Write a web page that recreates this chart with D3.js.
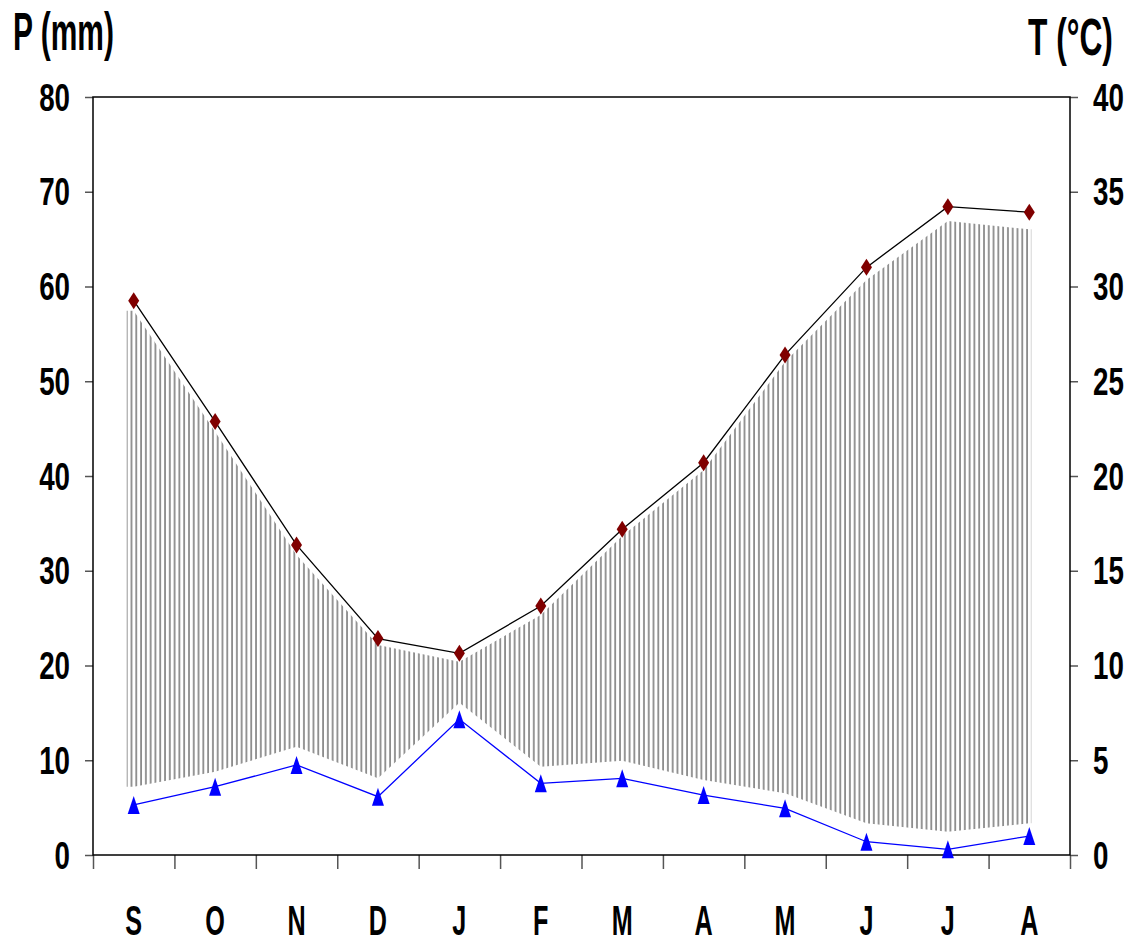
<!DOCTYPE html>
<html>
<head>
<meta charset="utf-8">
<script src="https://cdn.jsdelivr.net/npm/d3@7"></script>
<style>
  html, body { margin: 0; padding: 0; background: #fff; }
  svg { display: block; }
  text { font-family: "Liberation Sans", Arial, sans-serif; font-weight: bold; fill: #000; }
</style>
</head>
<body>
<svg id="chart" width="1136" height="942"></svg>
<script>
// ---- data ----
const months = ["S", "O", "N", "D", "J", "F", "M", "A", "M", "J", "J", "A"];
const temperature = [29.25, 22.87, 16.36, 11.42, 10.64, 13.14, 17.19, 20.70, 26.39, 31.01, 34.21, 33.92]; // °C (right axis)
const precipitation = [5.28, 7.21, 9.50, 6.15, 14.32, 7.57, 8.09, 6.33, 4.93, 1.40, 0.60, 2.00];      // mm (left axis)
const hatchTop = [57.45, 44.67, 31.66, 22.16, 20.40, 25.33, 33.67, 40.63, 52.06, 60.69, 66.91, 66.04];  // mm
const hatchBottom = [7.21, 8.79, 11.43, 8.09, 16.07, 9.32, 9.95, 7.92, 6.51, 3.35, 2.46, 3.35];         // mm
const pTicks = [0, 10, 20, 30, 40, 50, 60, 70, 80];
const tTicks = [0, 5, 10, 15, 20, 25, 30, 35, 40];

// ---- layout ----
const L = 93, R = 1070, T = 97, B = 855;
const svg = d3.select("#chart");

const x = d3.scaleBand().domain(d3.range(months.length)).range([L, R]);
const xc = i => x(i) + x.bandwidth() / 2;
const xb = d3.scaleLinear().domain([0, months.length]).range([L, R]);
const yP = d3.scaleLinear().domain([0, 80]).range([B, T]);
const yT = d3.scaleLinear().domain([0, 40]).range([B, T]);

// ---- hatch pattern ----
const defs = svg.append("defs");
const step = x.bandwidth() / 17;
const hx0 = xc(0) - 7, hx1 = xc(months.length - 1) + 2;
const pat = defs.append("pattern")
  .attr("id", "hatch")
  .attr("patternUnits", "userSpaceOnUse")
  .attr("x", hx0 - 1)
  .attr("y", 0)
  .attr("width", step)
  .attr("height", 20);
pat.append("line")
  .attr("x1", 1).attr("x2", 1).attr("y1", 0).attr("y2", 20)
  .attr("stroke", "#5e5e5e").attr("stroke-width", 1.3);

const hatchPts = months.map((m, i) => ({ x: xc(i), top: hatchTop[i], bot: hatchBottom[i] }));
hatchPts.unshift({ x: hx0, top: hatchTop[0], bot: hatchBottom[0] });
hatchPts.push({ x: hx1, top: hatchTop[months.length - 1], bot: hatchBottom[months.length - 1] });

svg.append("path")
  .datum(hatchPts)
  .attr("fill", "url(#hatch)")
  .attr("d", d3.area().x(d => d.x).y0(d => yP(d.bot)).y1(d => yP(d.top)));

// ---- axes ----
// left axis
const gl = svg.append("g").attr("transform", `translate(${L},0)`)
  .call(d3.axisLeft(yP).tickValues(pTicks).tickSize(8).tickFormat(""));
gl.select(".domain").remove();
gl.selectAll(".tick line").attr("stroke", "#555").attr("stroke-width", 1.5);
// right axis
const gr = svg.append("g").attr("transform", `translate(${R},0)`)
  .call(d3.axisRight(yT).tickValues(tTicks).tickSize(8).tickFormat(""));
gr.select(".domain").remove();
gr.selectAll(".tick line").attr("stroke", "#555").attr("stroke-width", 1.5);
// bottom axis ticks at band boundaries
const gb = svg.append("g").attr("transform", `translate(0,${B})`)
  .call(d3.axisBottom(xb).tickValues(d3.range(months.length + 1)).tickSize(14).tickFormat(""));
gb.select(".domain").remove();
gb.selectAll(".tick line").attr("stroke", "#555").attr("stroke-width", 1.5);

// plot frame
svg.append("rect")
  .attr("x", L).attr("y", T).attr("width", R - L).attr("height", B - T)
  .attr("fill", "none").attr("stroke", "#000").attr("stroke-width", 1.5);

// tick labels
svg.selectAll("text.pl").data(pTicks).join("text")
  .attr("class", "pl")
  .attr("text-anchor", "end")
  .attr("font-size", 38)
  .attr("transform", d => `translate(${L - 23},${yP(d) + 13.5}) scale(0.73,1)`)
  .text(d => d);
svg.selectAll("text.tl").data(tTicks).join("text")
  .attr("class", "tl")
  .attr("text-anchor", "start")
  .attr("font-size", 38)
  .attr("transform", d => `translate(${R + 23},${yT(d) + 13.5}) scale(0.73,1)`)
  .text(d => d);
svg.selectAll("text.xl").data(months).join("text")
  .attr("class", "xl")
  .attr("text-anchor", "middle")
  .attr("font-size", 42)
  .attr("transform", (d, i) => `translate(${xc(i)},935) scale(0.6,1)`)
  .text(d => d);

// axis titles
svg.append("text")
  .attr("font-size", 53)
  .attr("transform", "translate(13,50) scale(0.565,1)")
  .text("P (mm)");
svg.append("text")
  .attr("font-size", 52)
  .attr("transform", "translate(1028,55) scale(0.61,1)")
  .text("T (°C)");

// ---- series ----
svg.append("path")
  .datum(temperature)
  .attr("fill", "none").attr("stroke", "#000").attr("stroke-width", 1.3)
  .attr("d", d3.line().x((d, i) => xc(i)).y(d => yT(d)));
svg.append("path")
  .datum(precipitation)
  .attr("fill", "none").attr("stroke", "#0000ff").attr("stroke-width", 1.3)
  .attr("d", d3.line().x((d, i) => xc(i)).y(d => yP(d)));

// diamonds
const dw = 5.5, dh = 8.5;
svg.selectAll("path.dia").data(temperature).join("path")
  .attr("class", "dia")
  .attr("fill", "#800000")
  .attr("d", (d, i) => {
    const cx = xc(i), cy = yT(d);
    return `M${cx},${cy - dh}L${cx + dw},${cy}L${cx},${cy + dh}L${cx - dw},${cy}Z`;
  });
// triangles
const tw = 6, th = 9;
svg.selectAll("path.tri").data(precipitation).join("path")
  .attr("class", "tri")
  .attr("fill", "#0000ff")
  .attr("d", (d, i) => {
    const cx = xc(i), cy = yP(d);
    return `M${cx},${cy - th}L${cx + tw},${cy + th}L${cx - tw},${cy + th}Z`;
  });
</script>
</body>
</html>
